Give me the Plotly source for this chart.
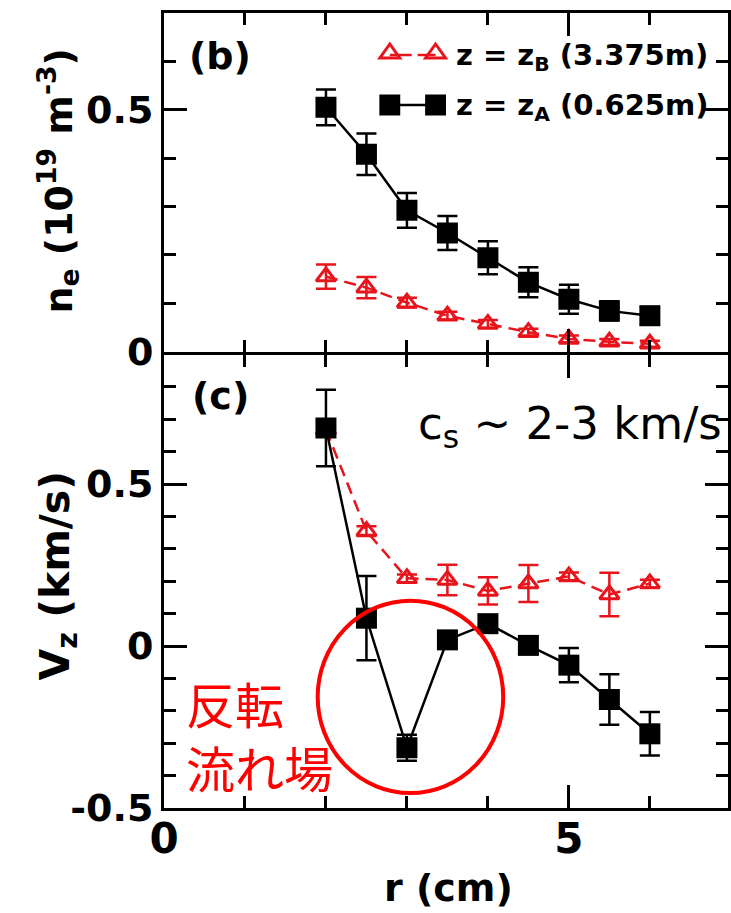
import plotly.graph_objects as go

# radial positions of the probe (cm)
r = [2.0, 2.5, 3.0, 3.5, 4.0, 4.5, 5.0, 5.5, 6.0]

# electron density n_e (10^19 m^-3)
ne_A = [0.505, 0.408, 0.292, 0.245, 0.194, 0.143, 0.108, 0.084, 0.074]
ne_A_err = [0.037, 0.043, 0.036, 0.035, 0.034, 0.031, 0.030, 0.020, 0.018]
ne_B = [0.155, 0.132, 0.101, 0.074, 0.057, 0.040, 0.026, 0.020, 0.016]
ne_B_err = [0.025, 0.022, 0.010, 0.008, 0.008, 0.007, 0.007, 0.006, 0.006]

# axial flow velocity V_z (km/s)
vz_A = [0.673, 0.086, -0.314, 0.019, 0.069, 0.002, -0.059, -0.165, -0.271]
vz_A_err = [0.118, 0.130, 0.040, 0.025, 0.025, 0.025, 0.053, 0.078, 0.067]
vz_B = [0.668, 0.355, 0.209, 0.204, 0.170, 0.193, 0.215, 0.159, 0.193]
vz_B_err = [0.015, 0.015, 0.012, 0.047, 0.042, 0.057, 0.012, 0.067, 0.012]

# tick labels
ne_ticks = [0, 0.5]
ne_ticktext = ["0", "0.5"]
vz_ticks = [-0.5, 0, 0.5]
vz_ticktext = ["-0.5", "0", "0.5"]
r_ticks = [0, 5]
r_ticktext = ["0", "5"]

legend_B = "z = z<sub>B</sub> (3.375m)"
legend_A = "z = z<sub>A</sub> (0.625m)"

RED = "#e8141c"
BLACK = "#000000"
FONT = "DejaVu Sans"

W, H = 731, 913
ML, MR, MT, MB = 164, 0, 13, 105
PW, PH = W - ML - MR, H - MT - MB
X_MAX = 6.965
MID = 353  # pixel row of the line shared by both panels
LW = 3
TOP_LO = (MT + PH - (MID - LW / 2)) / PH
BOT_HI = (MT + PH - (MID + LW / 2)) / PH


def fx(x):
    return (x - ML) / PW


def fy(y):
    return (MT + PH - y) / PH


fig = go.Figure()

# ---- upper panel: density ----
fig.add_trace(go.Scatter(
    x=r, y=ne_B, mode="lines+markers", xaxis="x", yaxis="y",
    line=dict(color=RED, width=2.5, dash="12px,7px"),
    marker=dict(symbol="triangle-up-open", size=17, color=RED, line=dict(width=3, color=RED)),
    error_y=dict(type="data", array=ne_B_err, color=RED, thickness=2.5, width=10),
    name="z_B", showlegend=False))
fig.add_trace(go.Scatter(
    x=r, y=ne_A, mode="lines+markers", xaxis="x", yaxis="y",
    line=dict(color=BLACK, width=2.5),
    marker=dict(symbol="square", size=21, color=BLACK),
    error_y=dict(type="data", array=ne_A_err, color=BLACK, thickness=2.5, width=10),
    name="z_A", showlegend=False))

# ---- lower panel: axial velocity ----
fig.add_trace(go.Scatter(
    x=r, y=vz_B, mode="lines+markers", xaxis="x2", yaxis="y2",
    line=dict(color=RED, width=2.5, dash="12px,7px"),
    marker=dict(symbol="triangle-up-open", size=17, color=RED, line=dict(width=3, color=RED)),
    error_y=dict(type="data", array=vz_B_err, color=RED, thickness=2.5, width=10),
    showlegend=False))
fig.add_trace(go.Scatter(
    x=r, y=vz_A, mode="lines+markers", xaxis="x2", yaxis="y2",
    line=dict(color=BLACK, width=2.5),
    marker=dict(symbol="square", size=21, color=BLACK),
    error_y=dict(type="data", array=vz_A_err, color=BLACK, thickness=2.5, width=10),
    showlegend=False))

tickfont_y = dict(family=FONT, size=38, color=BLACK, weight="bold")
tickfont_x = dict(family=FONT, size=42, color=BLACK, weight="bold")

common = dict(showline=True, linewidth=LW, linecolor=BLACK, mirror="ticks",
              ticks="inside", ticklen=23, tickwidth=3, tickcolor=BLACK,
              showgrid=False, zeroline=False, tickmode="array")
minor_x = dict(dtick=1, tick0=0, ticklen=12, tickwidth=2.5, tickcolor=BLACK,
               ticks="inside", showgrid=False)


def minor_y():
    return dict(dtick=0.1, tick0=0, ticklen=12, tickwidth=2.5, tickcolor=BLACK,
                ticks="inside", showgrid=False)


fig.update_layout(
    width=W, height=H,
    margin=dict(l=ML, r=MR, t=MT, b=MB),
    paper_bgcolor="white", plot_bgcolor="white",
    showlegend=False,
    xaxis=dict(domain=[0, 1], anchor="y", range=[0, X_MAX],
               tickvals=r_ticks, ticktext=r_ticktext,
               showticklabels=False, minor=minor_x, **common),
    yaxis=dict(domain=[TOP_LO, 1], anchor="x", range=[0, 0.7],
               tickvals=ne_ticks, ticktext=ne_ticktext,
               tickfont=tickfont_y, minor=minor_y(), **common),
    xaxis2=dict(domain=[0, 1], anchor="y2", range=[0, X_MAX],
                tickvals=r_ticks, ticktext=r_ticktext, ticklabelstandoff=-8,
                tickfont=tickfont_x, minor=minor_x, **common),
    yaxis2=dict(domain=[0, BOT_HI], anchor="x2", range=[-0.5, 0.9],
                tickvals=vz_ticks, ticktext=vz_ticktext,
                tickfont=tickfont_y, minor=minor_y(), **common),
)

ann = []


def label(text, x, y, size, bold=True, angle=0, xanchor="center", color=BLACK, family=FONT, align="center"):
    ann.append(dict(text=text, x=fx(x), y=fy(y), xref="paper", yref="paper",
                    xanchor=xanchor, yanchor="middle", showarrow=False, textangle=angle,
                    align=align,
                    font=dict(family=family, size=size, color=color,
                              weight="bold" if bold else "normal")))


label("(b)", 220, 56, 38)
label("(c)", 221, 396, 38)
label("n<sub>e</sub> (10<sup>19</sup> m<sup>-3</sup>)", 58, 181, 38, angle=-90)
label("V<sub>z</sub> (km/s)", 57, 576, 41, angle=-90)
label("r (cm)", 450, 888, 38)
label(legend_B, 456, 57, 29, xanchor="left")
label(legend_A, 456, 107, 29, xanchor="left")
label("c<sub>s</sub> ~ 2-3 km/s", 417, 426, 45, bold=False, xanchor="left")
label("反転<br>流れ場", 184, 734, 49, bold=False, xanchor="left", color="#ff0000",
      family="Noto Sans CJK JP", align="left")

shapes = []

# circle marking the reversed-flow region
shapes.append(dict(type="circle", xref="x2", yref="y2",
                   x0=1.898, x1=4.189, y0=-0.454, y1=0.14,
                   line=dict(color="#ff0000", width=4)))


def tri(cx, cy):
    p = "M {:.5f},{:.5f} L {:.5f},{:.5f} L {:.5f},{:.5f} Z".format(
        fx(cx), fy(cy - 9), fx(cx - 10), fy(cy + 5), fx(cx + 10), fy(cy + 5))
    return dict(type="path", xref="paper", yref="paper", path=p,
                line=dict(color=RED, width=3), fillcolor="rgba(0,0,0,0)")


def seg(x0, x1, y, color):
    return dict(type="line", xref="paper", yref="paper",
                x0=fx(x0), x1=fx(x1), y0=fy(y), y1=fy(y), line=dict(color=color, width=2.5))


def sq(cx, cy, s=21):
    return dict(type="rect", xref="paper", yref="paper",
                x0=fx(cx - s / 2), x1=fx(cx + s / 2), y0=fy(cy - s / 2), y1=fy(cy + s / 2),
                line=dict(width=0), fillcolor=BLACK)


# legend samples
shapes += [seg(391, 413, 55, RED), seg(419, 437, 55, RED), tri(391, 53), tri(437, 53)]
shapes += [seg(391, 437, 105, BLACK), sq(391, 105), sq(437, 105)]

fig.update_layout(annotations=ann, shapes=shapes)

fig.write_html("out.html")
